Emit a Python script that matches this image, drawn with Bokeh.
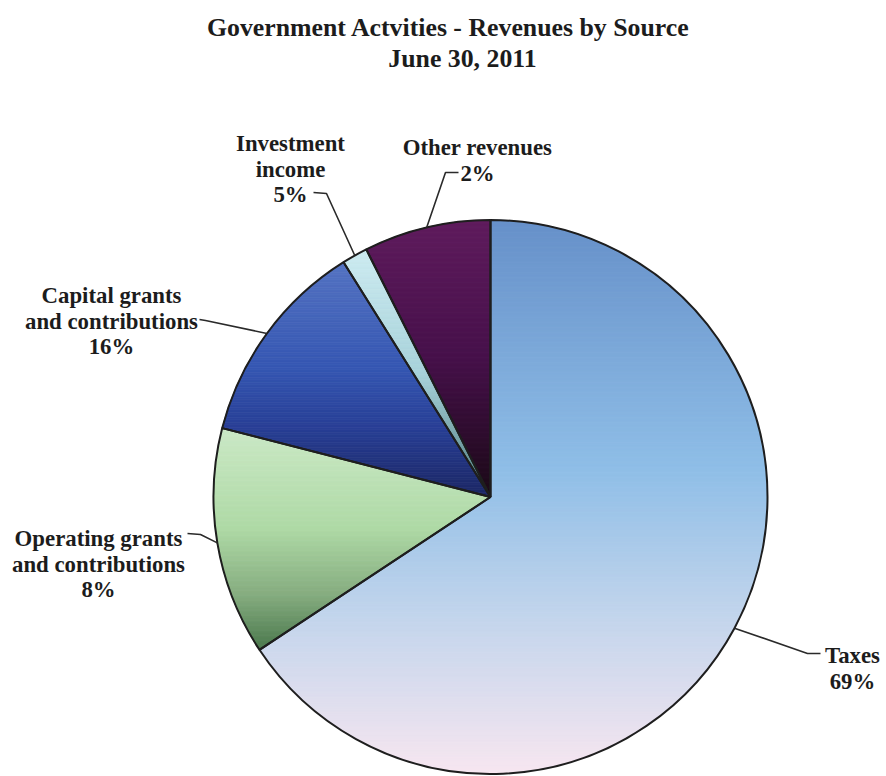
import numpy as np
from bokeh.plotting import figure
from bokeh.models import Range1d
from bokeh.core.properties import value
from bokeh.embed import file_html
from bokeh.resources import INLINE

# ---------------- data ----------------
categories = ["Taxes", "Operating grants and contributions",
              "Capital grants and contributions", "Investment income",
              "Other revenues"]
shares = [65.7, 13.3, 12.1, 1.5, 7.4]          # slice sizes as drawn (%)
label_lines = [["Taxes"], ["Operating grants", "and contributions"],
               ["Capital grants", "and contributions"], ["Investment", "income"],
               ["Other revenues"]]
label_pcts = ["69%", "8%", "16%", "5%", "2%"]   # percentages printed on labels
title_lines = ["Government Actvities - Revenues by Source", "June 30, 2011"]

# ---------------- styles / layout ----------------
W, H = 886, 776
def Y(py):            # page pixel y -> data y
    return float(H) - py

CX, CY, R = 490.0, Y(496.5), 277.0
FONT = value("Liberation Serif")

gradients = [
    [(0.0, "#6690c9"), (0.45, "#8fbee7"), (0.72, "#c3d5ec"), (1.0, "#f7e6f0")],
    [(0.0, "#cbe8c6"), (0.45, "#afdaa6"), (0.75, "#86ad80"), (1.0, "#4b784d")],
    [(0.0, "#5473c2"), (0.45, "#3556b2"), (0.7, "#283f96"), (1.0, "#1b2664")],
    [(0.0, "#cdebf1"), (0.5, "#a8d2da"), (1.0, "#4d7c7e")],
    [(0.0, "#5f1b5d"), (0.5, "#46104a"), (1.0, "#1a0916")],
]
# label block: (center x, first baseline page y); leader: elbow and end (page)
label_pos = [(852, 655), (98, 538), (111, 295), (290, 143), (477, 147)]
leader_pts = [[(807, 653), (820, 653)], [(200, 534), (187, 533)],
              [(205, 320), (199, 319)], [(326, 193), (313, 192)],
              [(445, 172), (458, 172)]]
LINE_H = 25.5

# ---------------- helpers ----------------
def hex2rgb(h):
    return np.array([int(h[i:i + 2], 16) for i in (1, 3, 5)], float)

def grad_color(stops, f):
    f = min(max(f, 0.0), 1.0)
    for (f0, c0), (f1, c1) in zip(stops[:-1], stops[1:]):
        if f <= f1:
            t = 0 if f1 == f0 else (f - f0) / (f1 - f0)
            c = hex2rgb(c0) * (1 - t) + hex2rgb(c1) * t
            return "#%02x%02x%02x" % tuple(int(round(v)) for v in c)
    return stops[-1][1]

def clip_half(pts, y0, keep_above):
    out = []
    n = len(pts)
    for i in range(n):
        P, Q = pts[i], pts[(i + 1) % n]
        pin = P[1] >= y0 if keep_above else P[1] <= y0
        qin = Q[1] >= y0 if keep_above else Q[1] <= y0
        if pin:
            out.append(P)
        if pin != qin:
            t = (y0 - P[1]) / (Q[1] - P[1])
            out.append((P[0] + t * (Q[0] - P[0]), y0))
    return out

# ---------------- figure ----------------
p = figure(width=W, height=H, output_backend="svg", toolbar_location=None,
           x_range=Range1d(0, W), y_range=Range1d(0, H),
           min_border=0, outline_line_color=None)
p.axis.visible = False
p.grid.visible = False
p.background_fill_color = "white"

total = float(sum(shares))
cum = np.concatenate([[0.0], np.cumsum(shares)]) / total
starts = np.deg2rad(90.0 - cum[:-1] * 360.0)
ends = np.deg2rad(90.0 - cum[1:] * 360.0)

xs_all, ys_all, cols = [], [], []
for i in range(len(shares)):
    a0, a1 = starts[i], ends[i]
    n = max(4, int(abs(a0 - a1) / np.deg2rad(1.0)) + 2)
    th = np.linspace(a0, a1, n)
    poly = [(CX, CY)] + [(CX + R * np.cos(t), CY + R * np.sin(t)) for t in th]
    ymin = min(q[1] for q in poly)
    ymax = max(q[1] for q in poly)
    step = 2.5
    yb = ymax
    while yb > ymin:
        ylo = max(yb - step, ymin)
        part = clip_half(clip_half(poly, ylo, True), yb, False)
        if len(part) >= 3:
            f = (ymax - 0.5 * (yb + ylo)) / (ymax - ymin)
            xs_all.append([q[0] for q in part])
            ys_all.append([q[1] for q in part])
            cols.append(grad_color(gradients[i], f))
        yb = ylo

p.patches(xs_all, ys_all, fill_color=cols, line_color=cols, line_width=0.8)

p.wedge(x=[CX] * len(shares), y=[CY] * len(shares), radius=R,
        start_angle=list(starts), end_angle=list(ends), direction="clock",
        fill_color=None, line_color="#1e1e1e", line_width=2)

# leader lines (anchored at slice mid-angles on the rim)
lx, ly = [], []
for i in range(len(shares)):
    mid = 0.5 * (starts[i] + ends[i])
    ax, ay = CX + R * np.cos(mid), CY + R * np.sin(mid)
    pts = [(ax, ay)] + [(x, Y(y)) for x, y in leader_pts[i]]
    lx.append([q[0] for q in pts])
    ly.append([q[1] for q in pts])
p.multi_line(lx, ly, line_color="#2a2a2a", line_width=1.6)

# labels
tx, ty, tt = [], [], []
for i in range(len(shares)):
    cx, by = label_pos[i]
    lines = label_lines[i] + [label_pcts[i]]
    for k, s in enumerate(lines):
        tx.append(cx)
        ty.append(Y(by + k * LINE_H))
        tt.append(s)
p.text(tx, ty, text=tt, text_font=FONT, text_font_style="bold",
       text_font_size="22.8px", text_align="center", text_baseline="alphabetic",
       text_color="#1c1c1c")

# title
p.text([448, 462], [Y(27), Y(58)], text=title_lines, text_font=FONT,
       text_font_style="bold", text_font_size="25.8px", text_align="center",
       text_baseline="alphabetic", text_color="#1c1c1c")

open("out.html", "w").write(file_html(p, INLINE))
